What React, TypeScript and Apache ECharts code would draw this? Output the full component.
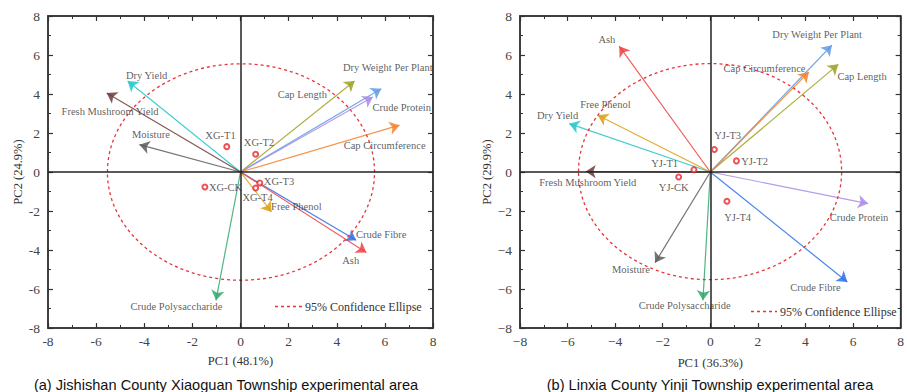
import React, { useEffect, useRef } from "react";
import * as echarts from "echarts";

// ---------- data ----------
const variables = [
  "Dry Yield",
  "Fresh Mushroom Yield",
  "Moisture",
  "Cap Length",
  "Dry Weight Per Plant",
  "Crude Protein",
  "Cap Circumference",
  "Crude Polysaccharide",
  "Free Phenol",
  "Crude Fibre",
  "Ash",
];
const variableColors = [
  "#22c6c9",
  "#6e3a3a",
  "#5a5a5a",
  "#9ea21f",
  "#5c9be3",
  "#a98ae6",
  "#f5822b",
  "#2fa86b",
  "#d9a010",
  "#2b6fe6",
  "#f0403f",
];

// (a) Xiaoguan loadings
const xgPC1 = [-4.69, -5.56, -4.2, 4.74, 5.85, 5.5, 6.61, -1.02, 1.29, 4.81, 5.23];
const xgPC2 = [4.67, 4.05, 1.4, 4.67, 4.27, 3.85, 2.4, -6.58, -2.05, -3.5, -4.13];
const xgLabelX = [-3.9, -5.42, -3.72, 2.57, 6.12, 6.7, 5.99, -2.66, 2.32, 5.85, 4.58];
const xgLabelY = [4.96, 3.08, 1.92, 3.98, 5.38, 3.3, 1.37, -6.92, -1.79, -3.21, -4.53];
const xgSamples = ["XG-CK", "XG-T1", "XG-T2", "XG-T3", "XG-T4"];
const xgSamplePC1 = [-1.48, -0.57, 0.63, 0.8, 0.63];
const xgSamplePC2 = [-0.77, 1.3, 0.91, -0.56, -0.82];
const xgSampleLabelX = [-0.62, -0.83, 0.77, 1.6, 0.71];
const xgSampleLabelY = [-0.77, 1.88, 1.51, -0.48, -1.33];

// (b) Yinji loadings
const yjPC1 = [-5.93, -5.24, -2.32, 5.38, 5.11, 6.63, 4.14, -0.31, -4.73, 5.76, -3.83];
const yjPC2 = [2.48, 0.02, -4.65, 5.52, 6.5, -1.62, 5.13, -6.58, 2.91, -5.64, 6.45];
const yjLabelX = [-6.42, -5.15, -3.34, 6.38, 4.49, 6.25, 2.28, -1.08, -4.41, 4.42, -4.35];
const yjLabelY = [2.91, -0.55, -4.99, 4.91, 7.05, -2.31, 5.33, -6.87, 3.47, -5.9, 6.8];
const yjSamples = ["YJ-CK", "YJ-T1", "YJ-T2", "YJ-T3", "YJ-T4"];
const yjSamplePC1 = [-1.33, -0.69, 1.1, 0.17, 0.7];
const yjSamplePC2 = [-0.26, 0.12, 0.57, 1.15, -1.5];
const yjSampleLabelX = [-1.54, -1.92, 1.86, 0.73, 1.15];
const yjSampleLabelY = [-0.77, 0.43, 0.56, 1.88, -2.31];

// confidence ellipse: center x, center y, radius x, radius y
const xgEllipse = [0.02, 0, 5.55, 5.55];
const yjEllipse = [-0.01, 0.02, 5.53, 5.54];

const axisTicks = [-8, -6, -4, -2, 0, 2, 4, 6, 8];
const xgAxisNames = ["PC1 (48.1%)", "PC2 (24.9%)"];
const yjAxisNames = ["PC1 (36.3%)", "PC2 (29.9%)"];
const captions = [
  "(a) Jishishan County Xiaoguan Township experimental area",
  "(b) Linxia County Yinji Township experimental area",
];
const legendText = "95% Confidence Ellipse";

// ---------- helpers ----------
const SERIF = "Liberation Serif, Times New Roman, serif";
const SANS = "Liberation Sans, Arial, sans-serif";
const TXT = "#333";

function makeAxis(dim: "x" | "y", gridIndex: number, main: boolean, name: string, useMinus: boolean, nameGap: number) {
  const pos = dim === "x" ? (main ? "bottom" : "top") : main ? "left" : "right";
  return {
    type: "value",
    gridIndex,
    position: pos,
    min: axisTicks[0],
    max: axisTicks[axisTicks.length - 1],
    interval: axisTicks[1] - axisTicks[0],
    name: main ? name : "",
    nameLocation: "middle",
    nameGap,
    nameTextStyle: { fontFamily: SERIF, fontSize: 12.5, color: TXT },
    axisLine: { show: true, onZero: false, lineStyle: { color: "#333", width: 1.5 } },
    axisTick: { show: true, inside: true, length: 5, lineStyle: { color: "#333", width: 1.2 } },
    minorTick: { show: true, splitNumber: 2, length: 3, lineStyle: { color: "#333", width: 1 } },
    splitLine: { show: false },
    minorSplitLine: { show: false },
    axisLabel: {
      show: main,
      fontFamily: SERIF,
      fontSize: 13.5,
      color: "#444",
      margin: dim === "x" ? 6 : 8,
      formatter: (v: number) => (useMinus ? String(v).replace("-", "\u2212") : String(v)),
    },
  };
}

function panelSeries(
  idx: number,
  pc1: number[],
  pc2: number[],
  lx: number[],
  ly: number[],
  sNames: string[],
  s1: number[],
  s2: number[],
  slx: number[],
  sly: number[],
  ell: number[]
) {
  const axisRef = { xAxisIndex: idx * 2, yAxisIndex: idx * 2 };
  return [
    {
      type: "scatter",
      ...axisRef,
      z: 2,
      symbol: "circle",
      symbolSize: 1,
      itemStyle: { color: "rgba(0,0,0,0)" },
      data: [[0, 0]],
      markLine: {
        silent: true,
        symbol: ["none", "none"],
        label: { show: false },
        lineStyle: { color: "#222", width: 1.5, type: "solid" },
        data: [{ xAxis: 0 }, { yAxis: 0 }],
      },
    },
    {
      type: "lines",
      coordinateSystem: "cartesian2d",
      ...axisRef,
      z: 3,
      symbol: ["none", "arrow"],
      symbolSize: 10,
      data: variables.map((v, i) => ({
        name: v,
        coords: [
          [0, 0],
          [pc1[i], pc2[i]],
        ],
        lineStyle: { color: variableColors[i], width: 1.2, opacity: 0.85 },
      })),
    },
    {
      type: "custom",
      ...axisRef,
      z: 4,
      silent: true,
      data: [ell],
      encode: { x: 0, y: 1 },
      renderItem: (params: any, api: any) => {
        const c = api.coord([api.value(0), api.value(1)]);
        const s = api.size([api.value(2), api.value(3)]);
        return {
          type: "ellipse",
          shape: { cx: c[0], cy: c[1], rx: s[0], ry: s[1] },
          style: { fill: "none", stroke: "#e8353a", lineWidth: 1.3, lineDash: [3, 3] },
        };
      },
    },
    {
      type: "scatter",
      ...axisRef,
      z: 5,
      symbol: "emptyCircle",
      symbolSize: 5,
      itemStyle: { color: "#e8252a", borderColor: "#e8252a", borderWidth: 1.3 },
      data: sNames.map((n, i) => ({ name: n, value: [s1[i], s2[i]] })),
    },
    {
      type: "scatter",
      ...axisRef,
      z: 6,
      symbol: "circle",
      symbolSize: 1,
      itemStyle: { color: "rgba(0,0,0,0)" },
      label: {
        show: true,
        position: "inside",
        formatter: "{b}",
        fontFamily: SERIF,
        fontSize: 10.5,
        color: TXT,
      },
      data: [
        ...variables.map((v, i) => ({ name: v, value: [lx[i], ly[i]] })),
        ...sNames.map((n, i) => ({ name: n, value: [slx[i], sly[i]] })),
      ],
    },
  ];
}

export default function App() {
  const ref = useRef<HTMLDivElement>(null);
  useEffect(() => {
    document.body.style.margin = "0";
    if (!ref.current) return;
    const chart = echarts.init(ref.current, null, { renderer: "svg" });
    const option: any = {
      animation: false,
      backgroundColor: "#fff",
      grid: [
        { left: 48, top: 16, width: 385, height: 312, show: true, borderColor: "#333", borderWidth: 1.5, backgroundColor: "transparent" },
        { left: 520, top: 16, width: 386, height: 312, show: true, borderColor: "#333", borderWidth: 1.5, backgroundColor: "transparent" },
      ],
      xAxis: [
        makeAxis("x", 0, true, xgAxisNames[0], false, 26),
        makeAxis("x", 0, false, "", false, 26),
        makeAxis("x", 1, true, yjAxisNames[0], true, 28),
        makeAxis("x", 1, false, "", true, 28),
      ],
      yAxis: [
        makeAxis("y", 0, true, xgAxisNames[1], false, 24),
        makeAxis("y", 0, false, "", false, 24),
        makeAxis("y", 1, true, yjAxisNames[1], true, 27),
        makeAxis("y", 1, false, "", true, 27),
      ],
      series: [
        ...panelSeries(0, xgPC1, xgPC2, xgLabelX, xgLabelY, xgSamples, xgSamplePC1, xgSamplePC2, xgSampleLabelX, xgSampleLabelY, xgEllipse),
        ...panelSeries(1, yjPC1, yjPC2, yjLabelX, yjLabelY, yjSamples, yjSamplePC1, yjSamplePC2, yjSampleLabelX, yjSampleLabelY, yjEllipse),
      ],
      graphic: [
        { type: "line", shape: { x1: 275, y1: 306.5, x2: 302, y2: 306.5 }, style: { stroke: "#e8353a", lineWidth: 1.3, lineDash: [3, 3] } },
        { type: "text", x: 305, y: 306.5, style: { text: legendText, fontFamily: SERIF, fontSize: 12, fill: TXT, verticalAlign: "middle" } },
        { type: "line", shape: { x1: 751, y1: 311.5, x2: 777, y2: 311.5 }, style: { stroke: "#e8353a", lineWidth: 1.3, lineDash: [3, 3] } },
        { type: "text", x: 780, y: 311.5, style: { text: legendText, fontFamily: SERIF, fontSize: 12, fill: TXT, verticalAlign: "middle" } },
        { type: "text", x: 226, y: 385, style: { text: captions[0], fontFamily: SANS, fontSize: 14.6, fill: "#111", align: "center", verticalAlign: "middle" } },
        { type: "text", x: 710, y: 385, style: { text: captions[1], fontFamily: SANS, fontSize: 14.6, fill: "#111", align: "center", verticalAlign: "middle" } },
      ],
    };
    chart.setOption(option);
    return () => chart.dispose();
  }, []);
  return <div ref={ref} style={{ position: "absolute", left: 0, top: 0, width: 907, height: 392 }} />;
}
